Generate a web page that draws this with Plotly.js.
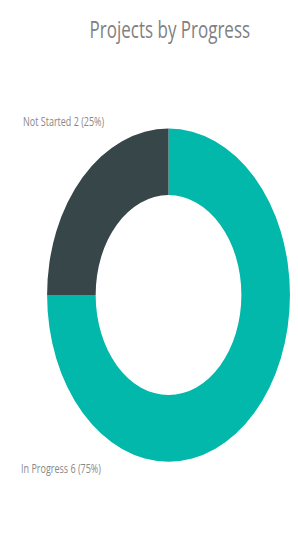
<!DOCTYPE html>
<html>
<head>
<meta charset="utf-8">
<script src="https://cdn.plot.ly/plotly-3.0.1.min.js"></script>
<style>
html,body{margin:0;padding:0;background:#fff;overflow:hidden;}
#wrap{width:298px;height:535px;overflow:hidden;}
#chart{width:298px;height:390px;transform:scaleY(1.3718);transform-origin:0 0;}
</style>
</head>
<body>
<div id="wrap"><div id="chart"></div></div>
<script>
const categories = ["In Progress", "Not Started"];
const counts = [6, 2];
const colors = ["#01B8AA", "#374649"];
const chartTitle = "Projects by Progress";

const total = counts.reduce((a, b) => a + b, 0);
const labelTexts = categories.map((c, i) => c + " " + counts[i] + " (" + Math.round(counts[i] / total * 100) + "%)");

const trace = {
  type: "pie",
  labels: categories,
  values: counts,
  hole: 0.6,
  sort: false,
  direction: "counterclockwise",
  rotation: 0,
  marker: {colors: colors, line: {width: 0}},
  textinfo: "none",
  hoverinfo: "label+value+percent",
  showlegend: false,
  domain: {x: [0.158, 0.973], y: [0.137, 0.760]}
};

const layout = {
  width: 298,
  height: 390,
  margin: {l: 0, r: 0, t: 0, b: 0},
  paper_bgcolor: "#ffffff",
  plot_bgcolor: "#ffffff",
  title: {
    text: chartTitle,
    x: 0.57, xanchor: "center",
    y: 0.945, yanchor: "middle",
    font: {family: "Open Sans, sans-serif", size: 17, color: "#808080"}
  },
  annotations: [
    {text: labelTexts[1], xref: "paper", yref: "paper", x: 0.07, y: 0.772, xanchor: "left", yanchor: "middle",
     showarrow: false, font: {family: "Open Sans, sans-serif", size: 9, color: "#888888"}},
    {text: labelTexts[0], xref: "paper", yref: "paper", x: 0.065, y: 0.125, xanchor: "left", yanchor: "middle",
     showarrow: false, font: {family: "Open Sans, sans-serif", size: 9, color: "#888888"}}
  ]
};

Plotly.newPlot("chart", [trace], layout, {displayModeBar: false, staticPlot: true});
</script>
</body>
</html>
